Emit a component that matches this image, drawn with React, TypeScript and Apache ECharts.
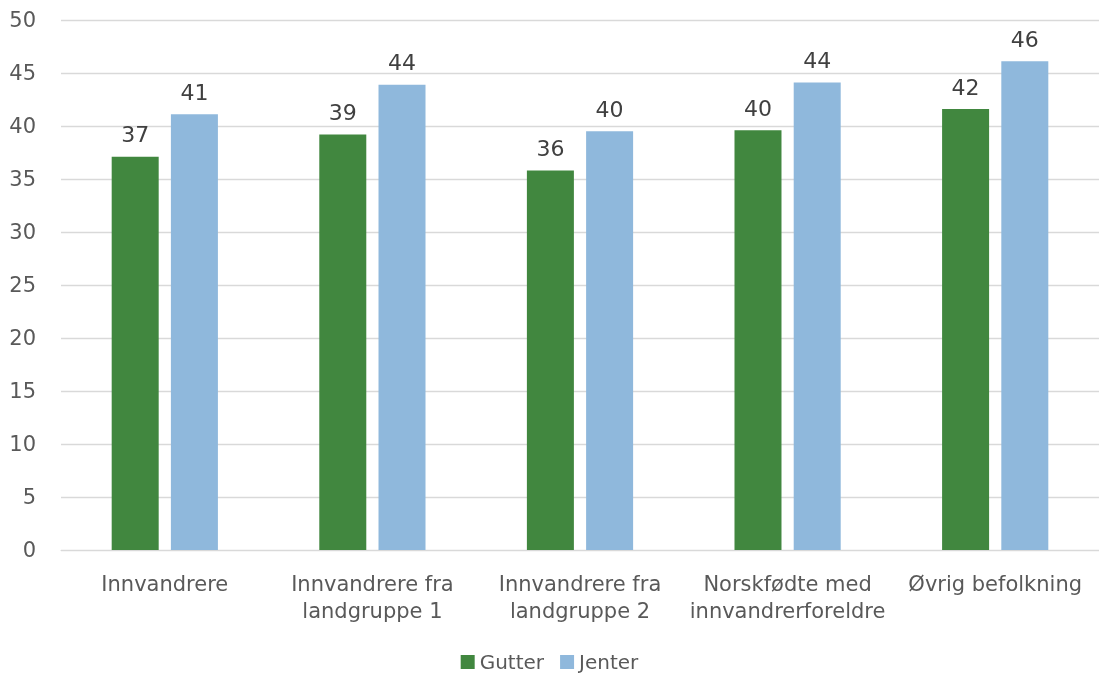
import React, { useEffect, useRef } from "react";
import * as echarts from "echarts";

const categories = [
  "Innvandrere",
  "Innvandrere fra\nlandgruppe 1",
  "Innvandrere fra\nlandgruppe 2",
  "Norskfødte med\ninnvandrerforeldre",
  "Øvrig befolkning",
];
const gutter = [37.1, 39.2, 35.8, 39.6, 41.6];
const jenter = [41.1, 43.9, 39.5, 44.1, 46.1];
const seriesNames = ["Gutter", "Jenter"];

const FONT = "DejaVu Sans";

export default function App() {
  const ref = useRef<HTMLDivElement>(null);
  useEffect(() => {
    document.body.style.margin = "0";
    document.body.style.overflow = "hidden";
    const chart = echarts.init(ref.current!, null, { renderer: "svg", width: 1099, height: 674 });
    const label = {
      show: true,
      position: "top",
      distance: 11,
      color: "#404040",
      fontSize: 22,
      fontFamily: FONT,
      formatter: (p: any) => String(Math.round(p.value)),
    };
    chart.setOption({
      animation: false,
      textStyle: { fontFamily: FONT },
      grid: { left: 61, width: 1045, top: 20, bottom: 124, containLabel: false },
      legend: {
        top: 647,
        left: "center",
        itemWidth: 14,
        itemHeight: 14,
        itemGap: 16,
        icon: "rect",
        textStyle: { color: "#595959", fontSize: 20, fontFamily: FONT, lineHeight: 20 },
        data: seriesNames,
      },
      xAxis: {
        type: "category",
        data: categories,
        axisLine: { lineStyle: { color: "#d9d9d9" } },
        axisTick: { show: false },
        axisLabel: {
          color: "#595959",
          fontSize: 21,
          fontFamily: FONT,
          margin: 20,
          lineHeight: 27,
          interval: 0,
        },
      },
      yAxis: {
        type: "value",
        min: 0,
        max: 50,
        interval: 5,
        axisLine: { show: false },
        axisTick: { show: false },
        splitLine: { lineStyle: { color: "#d9d9d9", width: 1.3 } },
        axisLabel: { color: "#595959", fontSize: 21, fontFamily: FONT, margin: 25 },
      },
      series: [
        {
          name: seriesNames[0],
          type: "bar",
          data: gutter,
          barWidth: 47,
          barGap: "26%",
          itemStyle: { color: "#41873f" },
          label,
        },
        {
          name: seriesNames[1],
          type: "bar",
          data: jenter,
          barWidth: 47,
          itemStyle: { color: "#8fb8dc" },
          label,
        },
      ],
    });
    return () => chart.dispose();
  }, []);
  return (
    <div
      ref={ref}
      style={{ position: "fixed", left: 0, top: 0, width: 1099, height: 674, overflow: "hidden" }}
    />
  );
}
